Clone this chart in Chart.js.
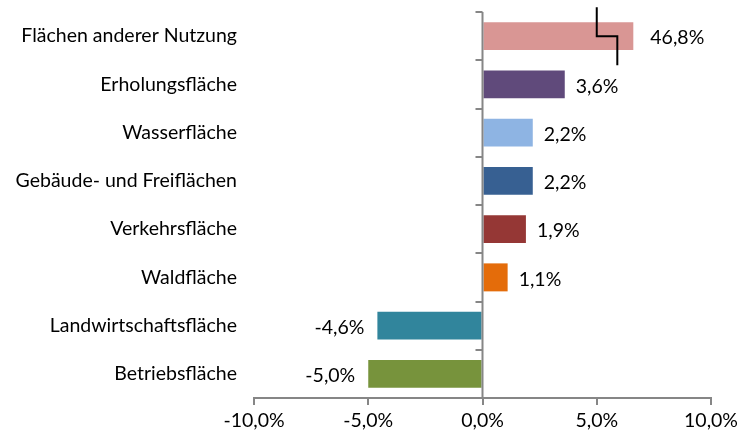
<!DOCTYPE html>
<html lang="de">
<head>
  <meta charset="UTF-8">
  <title>Flächenveränderung</title>
  <script src="https://cdn.jsdelivr.net/npm/chart.js"></script>
  <style>
    body { margin: 0; background: #fff; }
    .chart-container { width: 747px; height: 436px; }
  </style>
</head>
<body>
  <div class="chart-container">
    <canvas id="areaChart"></canvas>
  </div>

  <script>
    // Data
    const categories = [
      'Flächen anderer Nutzung',
      'Erholungsfläche',
      'Wasserfläche',
      'Gebäude- und Freiflächen',
      'Verkehrsfläche',
      'Waldfläche',
      'Landwirtschaftsfläche',
      'Betriebsfläche'
    ];
    const changes = [46.8, 3.6, 2.2, 2.2, 1.9, 1.1, -4.6, -5.0];
    const barColors = ['#D99694', '#604A7B', '#8EB4E3', '#376092', '#953735', '#E46C0A', '#31859C', '#77933C'];
    const xTicks = [-10, -5, 0, 5, 10];
    const axisBreakAt = 6.6; // bars above this are cut off with a break mark

    const fmt = v => v.toFixed(1).replace('.', ',') + '%';
    const drawn = changes.map(v => Math.min(v, axisBreakAt));
    const axisGray = '#868686';
    const font = { family: 'Lato', size: 19.5 };

    // vertical zero axis with tick marks, break mark and value labels
    const extras = {
      id: 'extras',
      afterDatasetsDraw(chart) {
        const ctx = chart.ctx;
        const xs = chart.scales.x;
        const x0 = xs.getPixelForValue(0);
        const top = chart.chartArea.top, bottom = chart.chartArea.bottom;
        const step = (bottom - top) / categories.length;

        ctx.save();
        ctx.strokeStyle = axisGray;
        ctx.lineWidth = 2;
        ctx.beginPath();
        ctx.moveTo(x0, top);
        ctx.lineTo(x0, bottom);
        for (let i = 0; i <= categories.length; i++) {
          const y = Math.round(top + i * step);
          ctx.moveTo(x0 - 7, y);
          ctx.lineTo(x0, y);
        }
        ctx.stroke();

        // value labels
        ctx.fillStyle = '#000';
        ctx.font = font.size + 'px ' + font.family;
        ctx.textBaseline = 'middle';
        const meta = chart.getDatasetMeta(0);
        meta.data.forEach((bar, i) => {
          const v = changes[i];
          const y = bar.y + 2;
          if (v >= 0) {
            ctx.textAlign = 'left';
            ctx.fillText(fmt(v), bar.x + (v > axisBreakAt ? 17 : 11), y);
          } else {
            ctx.textAlign = 'right';
            ctx.fillText(fmt(v), bar.x - 13, y);
          }
        });

        // break mark on the cut bar
        changes.forEach((v, i) => {
          if (v <= axisBreakAt) return;
          const bar = meta.data[i];
          const xa = xs.getPixelForValue(5);
          const xb = xs.getPixelForValue(5.9);
          ctx.strokeStyle = '#000';
          ctx.lineWidth = 2;
          ctx.beginPath();
          ctx.moveTo(xa, bar.y - 29);
          ctx.lineTo(xa, bar.y);
          ctx.lineTo(xb, bar.y);
          ctx.lineTo(xb, bar.y + 29);
          ctx.stroke();
        });
        ctx.restore();
      }
    };

    const ctx = document.getElementById('areaChart').getContext('2d');
    new Chart(ctx, {
      type: 'bar',
      data: {
        labels: categories,
        datasets: [{
          data: drawn,
          backgroundColor: barColors,
          barPercentage: 0.58,
          categoryPercentage: 1
        }]
      },
      options: {
        indexAxis: 'y',
        responsive: true,
        maintainAspectRatio: false,
        animation: false,
        layout: { padding: { top: 12, right: 36 } },
        plugins: {
          legend: { display: false },
          tooltip: { enabled: false }
        },
        scales: {
          x: {
            min: -10,
            max: 10,
            afterBuildTicks: s => { s.ticks = xTicks.map(v => ({ value: v })); },
            afterFit: s => { s.height = 38; },
            border: { color: axisGray, width: 2 },
            grid: { drawOnChartArea: false, drawTicks: true, tickLength: 7, color: axisGray, lineWidth: 2 },
            ticks: {
              color: '#000',
              font: font,
              padding: 4,
              callback: v => fmt(v)
            }
          },
          y: {
            afterFit: s => { s.width = 254; s.paddingTop = 0; s.paddingBottom = 0; },
            border: { display: false },
            grid: { display: false },
            ticks: {
              color: '#000',
              font: font,
              padding: 9
            }
          }
        }
      },
      plugins: [extras]
    });
  </script>
</body>
</html>
